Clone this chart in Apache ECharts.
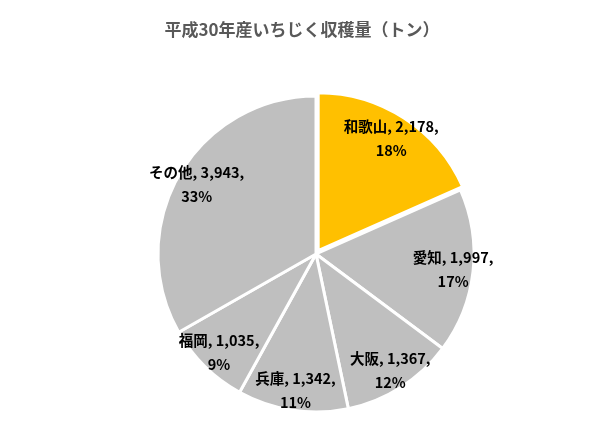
<!DOCTYPE html>
<html><head><meta charset="utf-8">
<script src="https://cdn.jsdelivr.net/npm/echarts@6/dist/echarts.min.js"></script>
<style>html,body{margin:0;background:#fff}#c{width:604px;height:448px}</style>
</head><body><div id="c"></div>
<script>
// いちじく収穫量 — pie, 和歌山 highlighted
const names = ["和歌山", "愛知", "大阪", "兵庫", "福岡", "その他"];
const values = [2178, 1997, 1367, 1342, 1035, 3943];
const total = values.reduce((a, b) => a + b, 0);
const FONT = "'Noto Sans CJK JP', sans-serif";

const data = names.map((n, i) => ({
  name: n, value: values[i], selected: i === 0,
  itemStyle: { color: i === 0 ? "#FFC000" : "#BFBFBF" },
}));
const fmt = (p) => `${p.name}, ${p.value.toLocaleString("en-US")},\n${Math.round(p.value / total * 100)}%`;

const chart = echarts.init(document.getElementById("c"));
chart.setOption({
  animation: false,
  title: { text: "平成30年産いちじく収穫量（トン）", left: "center", top: 16,
    textStyle: { fontFamily: FONT, fontSize: 17, fontWeight: "bold", color: "#595959" } },
  series: [
    { type: "pie", z: 1, center: [316, 254], radius: [0, 158], startAngle: 90, clockwise: true,
      selectedMode: "single", selectedOffset: 4, silent: true,
      itemStyle: { borderColor: "#fff", borderWidth: 3 },
      label: { show: false }, labelLine: { show: false }, data },
    { type: "pie", z: 5, center: [316, 254], radius: [100, 170], startAngle: 90, clockwise: true, silent: true,
      avoidLabelOverlap: false, labelLayout: { hideOverlap: false },
      itemStyle: { color: "transparent", borderWidth: 0 },
      label: { show: true, position: "inside", formatter: fmt, fontFamily: FONT, fontSize: 14.5,
        fontWeight: "bold", color: "#000", lineHeight: 24 },
      labelLine: { show: false },
      data: names.map((n, i) => ({ name: n, value: values[i] })) },
  ],
});
</script></body></html>
